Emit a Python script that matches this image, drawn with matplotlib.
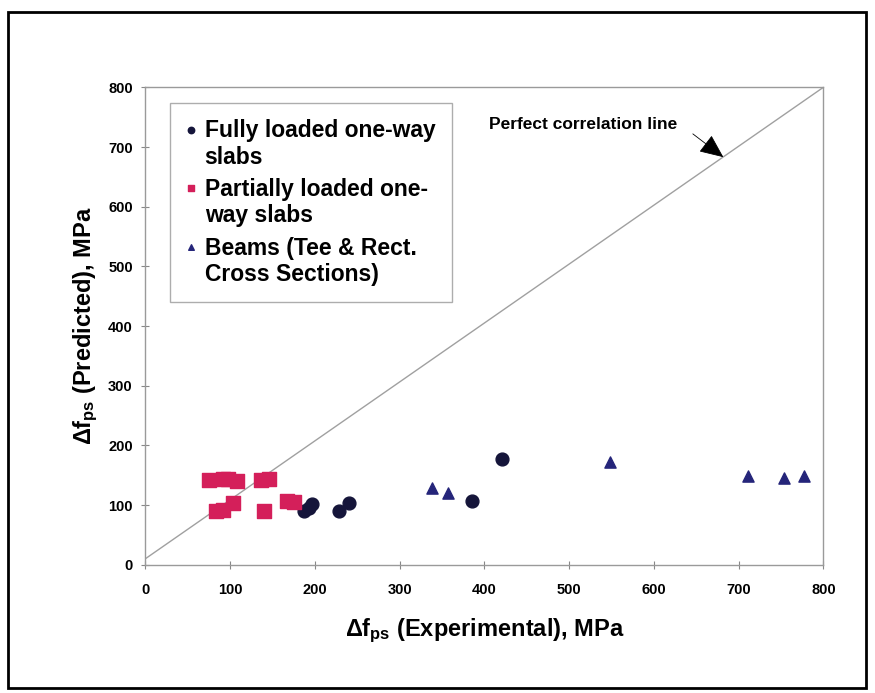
import matplotlib.pyplot as plt
from matplotlib.patches import Rectangle

plt.rcParams['font.family'] = 'Liberation Sans'
plt.rcParams['font.weight'] = 'bold'
plt.rcParams['axes.labelweight'] = 'bold'
plt.rcParams['mathtext.fontset'] = 'custom'
plt.rcParams['mathtext.rm'] = 'Liberation Sans:bold'
plt.rcParams['mathtext.it'] = 'Liberation Sans:bold'
plt.rcParams['mathtext.bf'] = 'Liberation Sans:bold'

# data (MPa)
full_x = [187, 197, 193, 229, 240, 386, 421]
full_y = [90, 102, 95, 90, 104, 107, 177]

part_x = [75, 92, 98, 108, 136, 146, 83, 92, 104, 140, 167, 176]
part_y = [142, 143, 143, 141, 142, 144, 90, 91, 103, 90, 107, 106]

beam_x = [338, 357, 548, 711, 754, 777]
beam_y = [128, 120, 173, 148, 145, 148]

line_x = [0, 800]
line_y = [10, 800]

ticks = [0, 100, 200, 300, 400, 500, 600, 700, 800]

fig = plt.figure(figsize=(8.75, 6.93), dpi=100)
ax = fig.add_axes([0.166, 0.185, 0.775, 0.689])

ax.plot(line_x, line_y, color='#a0a0a0', lw=1.0, zorder=1)
ax.scatter(full_x, full_y, marker='o', s=85, color='#15153a',
           label='Fully loaded one-way\nslabs', zorder=3)
ax.scatter(part_x, part_y, marker='s', s=95, color='#d41f5a',
           label='Partially loaded one-\nway slabs', zorder=3)
ax.scatter(beam_x, beam_y, marker='^', s=65, color='#25257a',
           label='Beams (Tee & Rect.\nCross Sections)', zorder=3)

ax.set_xlim(0, 800)
ax.set_ylim(0, 800)
ax.set_xticks(ticks)
ax.set_yticks(ticks)
ax.tick_params(direction='inout', length=6, color='#888888', labelsize=10.5)
ax.tick_params(axis='x', pad=10)
ax.tick_params(axis='y', pad=6)
for s in ax.spines.values():
    s.set_color('#9a9a9a')
    s.set_linewidth(1.0)

ax.set_xlabel(r'$\Delta f_{ps}$ (Experimental), MPa', fontsize=17, labelpad=14)
ax.set_ylabel(r'$\Delta f_{ps}$ (Predicted), MPa', fontsize=17, labelpad=6)

ax.text(405, 737, 'Perfect correlation line', fontsize=12.5, va='center', ha='left')
ax.annotate('', xy=(682, 683), xytext=(646, 722),
            arrowprops=dict(arrowstyle='-|>,head_length=0.75,head_width=0.33',
                            color='black', lw=0.6,
                            shrinkA=0, shrinkB=0, mutation_scale=20),
            zorder=4)

leg = ax.legend(loc='upper left', bbox_to_anchor=(0.037, 0.967), fontsize=16.5,
                frameon=True, fancybox=False, edgecolor='#999999',
                handlelength=0.4, handletextpad=0.4, borderpad=0.7,
                labelspacing=0.4, markerscale=0.5, borderaxespad=0,
                scatterpoints=1, scatteryoffsets=[1.45])
leg.get_frame().set_linewidth(1.0)

fig.patches.append(Rectangle((8 / 875, 5 / 693), 858 / 875, 676 / 693,
                             transform=fig.transFigure, fill=False,
                             edgecolor='black', lw=2.0))

fig.savefig('out.png', dpi=100)
